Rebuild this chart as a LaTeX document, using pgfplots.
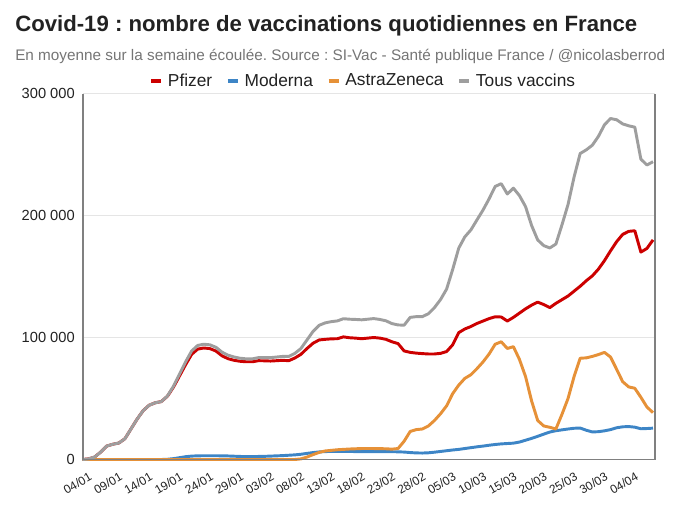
\documentclass[border=0pt]{standalone}
\usepackage{pgfplots}
\pgfplotsset{compat=1.18}
\usepackage{pgfplotstable}
\usepackage{fontspec}
\setmainfont{Liberation Sans}
\frenchspacing
\definecolor{cPf}{HTML}{CC0000}
\definecolor{cMo}{HTML}{3D85C6}
\definecolor{cAz}{HTML}{E69138}
\definecolor{cTo}{HTML}{9E9E9E}
\definecolor{cTxt}{HTML}{222222}
\definecolor{cSub}{HTML}{757575}

\pgfplotstableread{
d pf mo az to
-1 0 0 0 0
0 500 0 0 500
1 2000 0 0 2000
2 6000 0 0 6000
3 11000 0 0 11000
4 12500 0 0 12500
5 13500 0 0 13500
6 17000 0 0 17000
7 25000 0 0 25000
8 33000 0 0 33000
9 40000 0 0 40000
10 44500 0 0 44500
11 46500 0 0 46500
12 47500 0 0 47500
13 51800 200 0 52000
14 59300 700 0 60000
15 68500 1500 0 70000
16 77700 2300 0 80000
17 86200 2800 0 89000
18 90500 3000 0 93500
19 91400 3100 0 94500
20 90900 3100 0 94000
21 88900 3100 0 92000
22 85000 3000 0 88000
23 82600 2900 0 85500
24 81300 2700 0 84000
25 80500 2500 0 83000
26 80100 2400 0 82500
27 80100 2400 0 82500
28 81000 2500 0 83500
29 80900 2600 0 83500
30 80700 2800 0 83500
31 81000 3000 0 84000
32 81300 3200 0 84500
33 81000 3500 0 84500
34 83200 3800 0 87000
35 86200 4300 500 91000
36 91000 5000 2000 98000
37 95300 5700 4000 105000
38 98000 6200 5800 110000
39 98500 6500 7000 112000
40 98900 6600 7500 113000
41 99000 6600 8000 113600
42 100500 6600 8300 115400
43 99800 6600 8600 115000
44 99500 6500 8800 114800
45 99000 6500 9000 114500
46 99500 6500 9000 115000
47 100000 6500 9000 115500
48 99500 6400 8900 114800
49 98500 6400 8800 113700
50 96500 6400 8500 111400
51 95000 6300 9000 110300
52 89000 6100 15000 110100
53 87800 5700 23000 116500
54 87200 5400 24500 117100
55 86800 5300 25000 117100
56 86500 5500 27500 119500
57 86500 6000 32000 124500
58 87000 6600 37500 131100
59 88500 7200 44000 139700
60 94000 7800 54000 155800
61 104000 8300 61000 173300
62 107000 9000 66500 182500
63 109000 9700 69500 188200
64 111500 10400 74500 196400
65 113500 11000 80000 204500
66 115500 11700 86500 213700
67 117000 12300 94500 223800
68 116800 12800 96500 226100
69 113500 13100 91000 217600
70 116500 13400 92500 222400
71 120000 14300 82000 216300
72 123500 15800 68000 207300
73 126500 17300 48000 191800
74 129000 19000 32000 180000
75 127000 20800 27500 175300
76 124500 22500 26400 173400
77 128000 23600 25000 176600
78 131000 24300 37000 192300
79 134000 25000 50000 209000
80 138000 25600 68000 231600
81 142000 25800 83000 250800
82 146500 24000 83300 253800
83 150500 22600 84500 257600
84 156000 22800 86000 264800
85 163000 23500 87800 274300
86 171000 24500 84000 279500
87 178500 26000 74000 278500
88 184500 26800 63800 275100
89 187000 27000 59500 273500
90 187500 26500 58400 272400
91 170000 25200 51000 246200
92 173000 25400 43000 241400
93 180000 25700 38400 244100
}\data

\begin{document}
\begin{tikzpicture}
\useasboundingbox (-62.25pt,-35.625pt) rectangle (447.75pt,344.625pt);
\node[anchor=base west, inner sep=0pt, text=cTxt] at (-51pt,320.85pt)
  {\resizebox{466.5pt}{!}{\fontsize{14pt}{16pt}\bfseries\selectfont Covid-19 : nombre de vaccinations quotidiennes en France}};
\node[anchor=base west, inner sep=0pt, text=cSub] at (-51pt,299.6pt)
  {\resizebox{487.5pt}{!}{\fontsize{11pt}{13pt}\selectfont En moyenne sur la semaine écoulée. Source : SI-Vac - Santé publique France / @nicolasberrod}};
\begin{axis}[
  scale only axis, width=429pt, height=274.5pt,
  xmin=-0.9, xmax=93.33, ymin=0, ymax=300000,
  scaled y ticks=false,
  axis line style={draw=none},
  xtick={0,5,...,90},
  xticklabels={04/01,09/01,14/01,19/01,24/01,29/01,03/02,08/02,13/02,18/02,23/02,28/02,05/03,10/03,15/03,20/03,25/03,30/03,04/04},
  ytick={0,100000,200000,300000},
  yticklabels={0,100 000,200 000,300 000},
  major tick length=0pt,
  ymajorgrids,
  grid style={color=black!10, line width=1pt},
  xticklabel style={xshift=0pt, yshift=-9pt, rotate=30, anchor=north east, inner sep=0pt,
     font=\fontsize{9pt}{10pt}\selectfont, text=cTxt},
  yticklabel style={anchor=east, inner sep=0pt, xshift=-6pt,
     font=\fontsize{11pt}{12pt}\selectfont, text=cTxt},
  legend columns=4,
  legend style={draw=none, fill=none, at={(0.1160,1.0342)}, anchor=west,
     inner sep=0pt, font=\fontsize{13pt}{15pt}\selectfont, text=cTxt,
     nodes={inner sep=0pt},
     /tikz/every odd column/.append style={column sep=3.75pt},
     /tikz/every even column/.append style={column sep=10.5pt}},
  legend image code/.code={\draw[#1, line width=2.5pt] (0pt,0pt) -- (7.5pt,0pt);},
  clip=false,
]
\addplot[cPf, line width=2.2pt, line join=round] table[x=d,y=pf]{\data};
\addlegendentry{Pfizer}
\addplot[cMo, line width=2.2pt, line join=round] table[x=d,y=mo]{\data};
\addlegendentry{Moderna}
\addplot[cAz, line width=2.2pt, line join=round] table[x=d,y=az]{\data};
\addlegendentry{AstraZeneca}
\addplot[cTo, line width=2.2pt, line join=round] table[x=d,y=to]{\data};
\addlegendentry{Tous vaccins}
\draw[black!50, line width=0.9pt] (rel axis cs:0,1) -- (rel axis cs:0,0) -- (rel axis cs:1,0) -- (rel axis cs:1,1);
\end{axis}
\end{tikzpicture}
\end{document}
